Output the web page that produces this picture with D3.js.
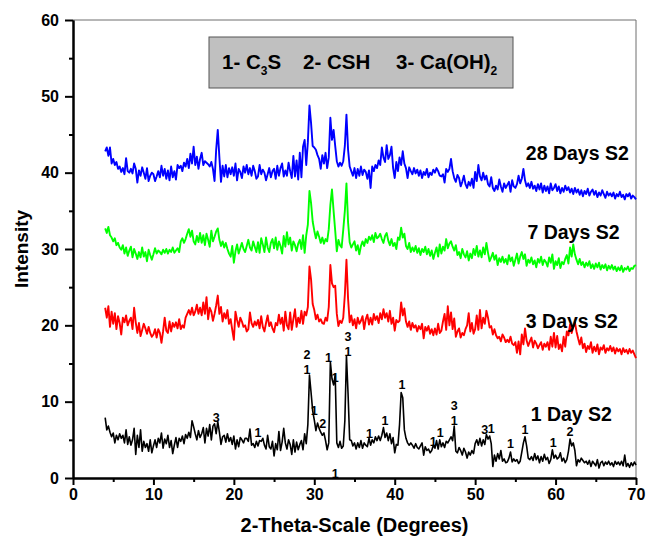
<!DOCTYPE html>
<html>
<head>
<meta charset="utf-8">
<script src="https://cdn.jsdelivr.net/npm/d3@7/dist/d3.min.js"></script>
<style>
  body { margin: 0; background: #fff; }
  svg text { font-family: Arial, "Liberation Sans", sans-serif; font-weight: bold; fill: #000; }
</style>
</head>
<body>
<svg id="chart" width="646" height="543"></svg>
<script>
// Diffractogram sampling grid: 2θ from 4° in 0.2° steps (one row per degree below)
const thetaStart = 4;
const thetaStep = 0.2;

// Intensity, 1 day of curing
const day1 = [
  7.9, 6.3, 6.8, 6.0, 5.4,
  5.9, 4.6, 5.6, 5.0, 5.8,
  5.2, 5.6, 4.6, 6.3, 4.4,
  5.4, 4.3, 5.0, 6.5, 3.1,
  5.6, 4.0, 6.3, 3.5, 4.8,
  4.0, 4.5, 3.5, 5.0, 3.3,
  4.2, 5.0, 4.0, 5.2, 4.6,
  5.9, 3.9, 5.1, 4.5, 5.6,
  4.0, 4.9, 3.2, 4.3, 5.3,
  4.0, 5.2, 4.8, 5.5, 4.5,
  5.7, 5.2, 6.0, 5.3, 7.5,
  6.7, 5.8, 5.0, 6.2, 5.3,
  5.8, 6.6, 4.6, 6.5, 5.5,
  7.0, 5.0, 6.8, 7.1, 5.8,
  7.4, 6.0, 4.4, 5.4, 5.6,
  4.7, 5.8, 4.8, 5.3, 4.4,
  5.5, 3.8, 5.0, 4.1, 5.3,
  5.0, 4.6, 5.2, 5.2, 4.8,
  6.4, 4.3, 4.5, 4.0, 4.8,
  4.2, 4.9, 4.8, 5.2, 4.3,
  3.8, 5.6, 4.1, 3.8, 4.8,
  2.9, 4.5, 3.7, 6.1, 3.6,
  4.7, 6.5, 4.6, 3.8, 5.0,
  4.4, 3.1, 5.0, 3.4, 4.7,
  3.7, 4.4, 4.9, 3.7, 5.8,
  4.5, 7.0, 13.5, 11.2, 8.8,
  7.6, 6.2, 7.2, 6.5, 6.0,
  5.6, 5.9, 4.9, 3.7, 4.6,
  15.2, 13.0, 12.2, 13.5, 4.6,
  4.0, 4.8, 3.9, 4.2, 7.5,
  16.0, 11.0, 5.0, 4.9, 4.2,
  4.6, 3.8, 4.6, 4.0, 4.9,
  3.9, 4.6, 4.3, 4.1, 5.2,
  4.3, 5.0, 4.6, 5.4, 4.9,
  5.5, 4.9, 5.6, 6.6, 5.3,
  5.9, 4.9, 5.8, 4.5, 5.3,
  3.3, 4.4, 4.3, 7.0, 11.2,
  10.5, 6.3, 5.2, 4.6, 4.3,
  4.6, 4.3, 3.9, 4.5, 4.0,
  3.8, 4.2, 4.6, 3.0, 4.1,
  3.6, 3.8, 3.3, 3.6, 4.3,
  3.9, 4.9, 3.8, 5.0, 4.1,
  4.6, 4.0, 4.8, 4.6, 5.0,
  5.4, 4.9, 6.8, 3.5, 3.3,
  4.0, 3.6, 3.0, 3.9, 3.4,
  2.6, 3.4, 3.0, 3.6, 3.2,
  4.5, 5.0, 4.3, 5.2, 4.2,
  5.0, 4.4, 5.7, 5.1, 5.5,
  4.5, 1.5, 3.0, 2.2, 3.2,
  2.5, 3.6, 2.2, 2.5, 2.0,
  2.1, 2.6, 3.4, 2.1, 2.5,
  2.2, 2.4, 1.9, 2.2, 3.4,
  4.6, 5.4, 4.2, 2.6, 2.4,
  2.8, 2.3, 3.2, 2.4, 2.9,
  2.0, 2.8, 2.2, 3.1, 2.4,
  2.7, 1.9, 2.4, 3.7, 2.6,
  3.0, 2.5, 2.7, 3.3, 2.2,
  2.6, 2.0, 2.4, 3.5, 5.1,
  4.2, 4.6, 3.6, 1.6, 2.4,
  2.1, 2.6, 2.3, 2.0, 2.2,
  1.8, 2.3, 1.5, 2.2, 1.9,
  1.6, 2.4, 1.3, 2.0, 2.2,
  1.6, 2.1, 1.8, 2.2, 1.7,
  2.0, 1.5, 2.2, 1.8, 2.1,
  1.7, 2.2, 1.6, 3.0, 1.5,
  1.9, 1.4, 2.0, 1.6, 2.1,
  1.7
];

// Intensity, 3 days of curing
const day3 = [
  22.3, 21.0, 22.5, 19.8, 21.8,
  20.2, 21.6, 19.5, 21.2, 20.3,
  18.8, 21.0, 20.4, 21.3, 20.0,
  20.6, 21.0, 19.5, 22.3, 20.4,
  19.0, 20.3, 18.6, 19.4, 20.2,
  19.6, 18.9, 19.8, 19.0, 18.5,
  18.8, 19.5, 18.4, 19.5, 19.0,
  17.7, 19.2, 21.0, 19.3, 19.0,
  20.5, 19.2, 20.3, 19.8, 20.4,
  19.6, 20.8, 19.5, 20.0, 19.7,
  21.0, 21.5, 22.0, 21.4, 22.3,
  21.3, 21.8, 22.7, 21.5, 22.3,
  21.3, 23.0, 21.5, 23.7, 20.8,
  22.3, 21.8, 20.6, 21.5, 22.6,
  23.9, 21.5, 22.4, 20.5, 21.6,
  20.9, 22.0, 20.2, 20.8, 19.4,
  18.1, 21.8, 20.7, 19.8, 21.0,
  20.5, 19.8, 20.0, 19.2, 19.5,
  21.7, 20.3, 19.8, 20.5, 20.0,
  20.7, 19.6, 21.2, 19.8, 19.2,
  20.3, 21.3, 19.9, 20.4, 19.6,
  19.1, 20.3, 20.0, 21.4, 20.2,
  21.0, 19.3, 21.8, 20.0, 19.5,
  21.7, 19.4, 20.8, 22.1, 19.8,
  21.0, 20.3, 21.9, 20.2, 21.8,
  21.3, 22.4, 27.7, 26.0, 22.8,
  22.0, 20.8, 21.4, 20.5, 20.8,
  20.3, 20.2, 21.0, 20.6, 22.4,
  27.9, 25.5, 25.0, 25.2, 21.5,
  19.9, 20.6, 20.3, 21.0, 24.0,
  28.6, 23.5, 20.4, 21.3, 20.0,
  20.8, 19.6, 21.0, 20.2, 20.6,
  21.2, 19.5, 20.8, 21.4, 20.1,
  21.0, 20.1, 21.5, 20.7, 21.2,
  20.3, 21.6, 20.8, 22.1, 21.0,
  21.6, 20.5, 21.9, 20.2, 21.0,
  19.3, 20.7, 20.4, 20.6, 23.0,
  21.3, 22.2, 20.5, 19.8, 20.5,
  19.4, 20.3, 19.7, 20.0, 19.2,
  19.9, 19.5, 20.2, 18.3, 19.8,
  19.3, 19.9, 18.9, 19.5, 18.7,
  19.6, 18.8, 20.2, 19.0, 19.3,
  20.5, 21.5, 19.4, 22.5, 20.0,
  21.7, 19.5, 20.9, 18.5, 19.2,
  19.6, 18.4, 19.0, 18.7, 19.5,
  20.0, 21.6, 19.2, 20.3, 18.9,
  19.5, 21.3, 19.4, 22.0, 19.6,
  21.0, 20.2, 21.9, 21.0, 19.7,
  19.9, 18.8, 19.5, 18.7, 18.3,
  18.5, 17.9, 18.8, 18.4, 17.8,
  18.1, 17.8, 18.5, 17.6, 17.4,
  17.8, 16.4, 17.9, 16.2, 18.8,
  17.5, 19.6, 18.0, 17.3, 17.9,
  18.4, 17.1, 18.0, 17.6, 17.0,
  17.4, 17.8, 16.8, 17.6, 17.2,
  17.8, 16.8, 18.5, 17.2, 19.0,
  17.1, 18.6, 16.9, 17.5, 16.6,
  18.5, 17.2, 19.2, 18.7, 20.1,
  19.0, 19.8, 20.4, 19.2, 18.3,
  17.5, 18.4, 17.0, 17.6, 16.5,
  17.3, 16.9, 17.8, 16.4, 17.2,
  16.6, 17.5, 16.2, 17.1, 16.8,
  17.4, 16.4, 17.0, 16.7, 17.3,
  16.6, 17.1, 16.3, 17.0, 16.6,
  16.9, 16.2, 17.0, 16.5, 16.8,
  16.3, 16.9, 16.4, 16.7, 16.2,
  15.7
];

// Intensity, 7 days of curing
const day7 = [
  32.7, 32.1, 32.9, 31.8, 31.5,
  31.0, 31.4, 30.5, 30.8, 30.2,
  29.9, 30.5, 29.4, 30.2, 29.1,
  29.8, 30.3, 28.9, 30.0, 29.4,
  28.7, 29.6, 28.9, 30.2, 29.0,
  29.6, 28.4, 29.9, 29.2, 28.6,
  29.3, 30.1, 29.4, 29.8, 29.6,
  29.3, 29.9, 29.5, 30.0, 29.4,
  29.9, 29.6, 30.2, 29.5, 29.8,
  30.1, 29.6, 31.0, 31.4, 30.8,
  31.3, 32.0, 32.6, 31.6, 32.4,
  31.0, 30.6, 31.7, 30.9, 32.1,
  30.8, 31.8, 30.5, 32.0, 31.2,
  30.3, 32.4, 31.0, 31.6, 32.3,
  32.7, 31.2, 30.4, 31.0, 30.2,
  30.8, 30.0, 29.4, 29.0, 30.4,
  28.2, 29.7, 30.6, 29.4, 30.1,
  30.8, 30.0, 29.6, 30.4, 31.2,
  30.2, 29.8, 31.0, 30.3, 29.6,
  30.9, 29.5, 31.4, 30.6, 29.6,
  31.5, 30.2, 29.6, 30.8, 31.3,
  30.1, 31.5, 29.9, 31.0, 30.4,
  29.4, 31.7, 30.3, 32.2, 30.6,
  31.5, 29.8, 31.0, 30.5, 29.7,
  30.7, 31.2, 30.0, 31.8, 29.5,
  31.8, 33.2, 37.6, 36.0, 33.6,
  32.4, 31.4, 32.3, 31.6, 30.8,
  31.5, 30.7, 31.3, 31.0, 32.6,
  35.8, 37.8, 35.0, 32.4, 29.7,
  31.2, 30.5, 30.2, 32.5, 35.0,
  38.6, 33.5, 30.9, 30.2, 30.6,
  31.0, 29.8, 30.5, 29.3, 30.4,
  31.0, 30.4, 31.3, 30.8, 31.6,
  31.2, 31.8, 30.9, 32.1, 31.4,
  31.6, 32.0, 31.3, 30.8, 31.7,
  32.1, 31.1, 30.5, 31.3, 30.4,
  30.8, 30.0, 31.5, 31.2, 32.8,
  31.5, 32.0, 30.4, 30.0, 30.8,
  29.6, 30.2, 29.7, 30.4, 29.5,
  30.1, 29.2, 30.0, 29.6, 30.3,
  29.3, 30.0, 29.1, 29.8, 28.7,
  29.5, 30.2, 29.0, 30.6, 29.4,
  30.3, 29.8, 31.3, 30.1, 30.7,
  31.0, 30.3, 29.8, 30.5, 29.2,
  29.6, 28.8, 30.0, 29.3, 28.9,
  29.7, 28.5, 29.4, 28.8, 30.0,
  29.2, 30.4, 29.0, 29.8, 28.9,
  30.2, 29.3, 30.8, 29.5, 28.4,
  28.9, 29.5, 28.6, 29.2, 27.9,
  28.8, 28.3, 29.0, 28.2, 28.7,
  28.0, 29.2, 28.4, 28.9, 27.8,
  28.6, 29.4, 28.1, 29.0, 29.6,
  28.7, 29.3, 27.8, 28.6, 28.2,
  28.9, 28.0, 28.5, 27.6, 28.7,
  28.2, 29.0, 27.9, 28.6, 28.3,
  27.7, 28.9, 28.2, 29.3, 27.4,
  28.4, 27.9, 28.8, 27.5, 28.3,
  28.0, 28.7, 29.2, 28.1, 30.2,
  29.0, 30.6, 29.3, 28.6, 28.0,
  28.7, 27.9, 28.3, 27.6, 28.2,
  27.8, 28.4, 27.5, 28.0, 27.4,
  28.1, 27.6, 28.2, 27.3, 27.9,
  27.5, 28.0, 27.2, 27.8, 27.4,
  27.9, 27.3, 27.7, 27.1, 27.6,
  27.2, 27.8, 27.0, 27.5, 27.3,
  27.7, 27.1, 27.5, 27.4, 27.8,
  27.9
];

// Intensity, 28 days of curing
const day28 = [
  42.8, 43.3, 42.2, 43.3, 41.2,
  41.8, 41.0, 41.4, 40.5, 40.8,
  40.1, 40.6, 39.8, 41.9, 40.2,
  40.0, 40.5, 39.9, 41.2, 40.5,
  38.7, 40.3, 39.6, 40.7, 40.0,
  39.2, 40.6, 38.9, 39.6, 40.0,
  39.8, 38.9, 39.5, 40.2, 39.4,
  40.9, 39.6, 40.5, 39.2, 40.3,
  39.0, 40.8, 39.4, 40.2, 39.1,
  41.0, 40.6, 40.9, 40.2, 41.3,
  40.8, 41.8, 40.6, 42.5, 41.2,
  43.4, 41.0, 42.1, 40.5, 41.8,
  42.6, 41.0, 41.5, 41.3, 41.1,
  40.8, 41.4, 40.5, 38.9, 43.0,
  45.6, 42.0, 38.8, 40.9, 39.5,
  41.0, 39.4, 40.6, 39.8, 40.7,
  39.6, 41.2, 39.0, 40.5, 40.1,
  39.3, 40.8, 40.0, 41.0, 39.8,
  40.6, 39.6, 40.9, 40.2, 39.2,
  39.5, 41.0, 39.8, 40.4, 40.0,
  39.0, 39.8, 40.6, 39.4, 40.2,
  40.5, 39.2, 40.9, 39.6, 40.6,
  41.2, 39.5, 40.3, 39.6, 41.3,
  40.2, 39.3, 42.2, 39.5, 41.6,
  39.1, 42.6, 39.4, 43.4, 44.3,
  41.0, 44.0, 48.8, 46.5, 43.5,
  43.3, 43.0, 42.3, 41.8, 40.5,
  42.3, 41.2, 42.6, 40.6, 42.0,
  47.2, 44.3, 45.6, 43.5, 41.5,
  40.8, 41.3, 40.9, 41.5, 43.5,
  47.6, 43.0, 40.8, 40.2, 39.6,
  40.6, 39.3, 40.5, 39.6, 40.8,
  39.7, 40.4, 40.1, 39.2, 40.3,
  38.0, 40.8, 40.2, 41.0, 40.6,
  41.6, 41.0, 43.3, 42.0, 41.4,
  43.6, 41.8, 42.3, 43.4, 40.6,
  39.3, 41.4, 40.2, 42.0, 41.0,
  42.8, 41.2, 40.6, 39.3, 40.7,
  40.2, 39.8, 40.6, 39.9, 40.4,
  39.6, 40.3, 39.3, 40.1, 39.7,
  40.5, 39.4, 40.0, 39.7, 40.4,
  40.0, 40.6, 40.2, 39.6, 39.5,
  39.8, 38.7, 40.5, 40.1, 40.5,
  41.8, 40.2, 39.3, 38.8, 39.7,
  39.3, 38.2, 38.8, 39.6, 38.5,
  38.0, 38.8, 38.3, 39.2, 38.0,
  40.1, 38.9, 41.0, 39.5, 39.0,
  40.0, 39.1, 39.6, 38.5, 38.2,
  39.4, 38.0, 37.6, 38.3, 37.8,
  39.1, 38.2, 37.5, 38.6, 38.0,
  38.4, 38.8, 37.5, 39.0, 38.2,
  38.0, 38.5, 39.6, 38.6, 39.2,
  40.5, 39.0, 38.2, 38.6, 38.0,
  38.8, 37.9, 38.3, 37.6, 38.5,
  37.8, 38.6, 37.4, 38.3, 37.6,
  38.2, 37.3, 38.6, 37.7, 38.0,
  38.5, 37.6, 38.2, 37.3, 38.0,
  37.5, 38.3, 37.7, 38.1, 37.4,
  37.9, 37.2, 38.0, 37.4, 37.8,
  37.1, 37.7, 36.9, 37.6, 37.2,
  37.9, 37.0, 37.5, 37.8, 37.1,
  37.6, 36.8, 37.4, 37.0, 37.7,
  37.2, 36.7, 37.5, 37.0, 37.3,
  36.9, 37.4, 36.6, 37.2, 36.9,
  37.5, 36.8, 37.1, 36.5, 37.2,
  36.9, 37.3, 36.6, 37.0, 36.8,
  36.5
];

const seriesValues = [day1, day3, day7, day28];
const seriesNames = ["1 Day S2", "3 Days S2", "7 Days S2", "28 Days S2"];
const seriesColors = ["#000000", "#ff0000", "#00ff00", "#0000ff"];
// where each series name sits (2θ, intensity)
const nameTheta = [56.9, 56.3, 56.5, 56.3];
const nameLevel = [7.5, 19.6, 31.3, 41.7];

// Phase markers on the 1-day pattern: 1 = C3S, 2 = CSH, 3 = Ca(OH)2
const peakTheta = [17.8, 23.0, 29.1, 29.1, 30.0, 31.05, 31.75, 32.6, 32.6, 34.2, 34.2, 36.85, 38.8, 40.9,
                   44.8, 45.65, 47.4, 47.4, 51.2, 52.0, 54.4, 56.2, 59.7, 61.8];
const peakLevel = [7.9, 6.0, 14.2, 16.2, 8.9, 7.1, 15.85, 13.2, 0.6, 16.6, 18.6, 5.8, 7.55, 12.2,
                   4.8, 5.9, 7.5, 9.5, 6.3, 6.55, 4.5, 6.3, 4.7, 6.1];
const peakPhase = ["3", "1", "1", "2", "1", "2", "1", "1", "1", "1", "3", "1", "1", "1",
                   "1", "1", "1", "3", "3", "1", "1", "1", "1", "2"];

const xMajorTicks = [0, 10, 20, 30, 40, 50, 60, 70];
const xMinorTicks = [5, 15, 25, 35, 45, 55, 65];
const yMajorTicks = [0, 10, 20, 30, 40, 50, 60];
const yMinorTicks = [5, 15, 25, 35, 45, 55];

// ---- layout ----
const svg = d3.select("#chart");
const plot = { left: 73, right: 636, top: 20, bottom: 478 };

const x = d3.scaleLinear().domain([0, 70]).range([plot.left, plot.right]);
const y = d3.scaleLinear().domain([0, 60]).range([plot.bottom, plot.top]);

// frame (thin top/right)
svg.append("path")
  .attr("d", `M${plot.left},${plot.top}H${plot.right}V${plot.bottom}`)
  .attr("fill", "none").attr("stroke", "#6e6e6e").attr("stroke-width", 1);

// curves
const line = d3.line()
  .x((d, i) => x(thetaStart + i * thetaStep))
  .y(d => y(d));

svg.append("g").selectAll("path")
  .data(seriesValues)
  .join("path")
  .attr("d", d => line(d))
  .attr("fill", "none")
  .attr("stroke", (d, i) => seriesColors[i])
  .attr("stroke-width", (d, i) => i === 0 ? 1.6 : 1.9)
  .attr("stroke-linejoin", "round");

// axes
function styleAxis(g) {
  g.selectAll(".domain").attr("stroke", "#000").attr("stroke-width", 2);
  g.selectAll(".tick line").attr("stroke", "#000").attr("stroke-width", 2);
  g.selectAll(".tick text").style("font-size", "16px").style("font-weight", "bold");
}

svg.append("g")
  .attr("transform", `translate(0,${plot.bottom})`)
  .call(d3.axisBottom(x).tickValues(xMinorTicks).tickSize(4).tickFormat("").tickSizeOuter(0))
  .call(styleAxis);
svg.append("g")
  .attr("transform", `translate(0,${plot.bottom})`)
  .call(d3.axisBottom(x).tickValues(xMajorTicks).tickSize(7).tickPadding(4).tickSizeOuter(0).tickFormat(d3.format("d")))
  .call(styleAxis);

svg.append("g")
  .attr("transform", `translate(${plot.left},0)`)
  .call(d3.axisLeft(y).tickValues(yMinorTicks).tickSize(4).tickFormat("").tickSizeOuter(0))
  .call(styleAxis);
svg.append("g")
  .attr("transform", `translate(${plot.left},0)`)
  .call(d3.axisLeft(y).tickValues(yMajorTicks).tickSize(8).tickPadding(6).tickSizeOuter(0).tickFormat(d3.format("d")))
  .call(styleAxis);

// axis titles
svg.append("text")
  .attr("x", (plot.left + plot.right) / 2).attr("y", 532)
  .attr("text-anchor", "middle").style("font-size", "20px")
  .text("2-Theta-Scale (Degrees)");
svg.append("text")
  .attr("transform", `translate(28,${(plot.top + plot.bottom) / 2}) rotate(-90)`)
  .attr("text-anchor", "middle").style("font-size", "19px")
  .text("Intensity");

// series names
svg.append("g").selectAll("text")
  .data(seriesNames)
  .join("text")
  .attr("x", (d, i) => x(nameTheta[i]))
  .attr("y", (d, i) => y(nameLevel[i]))
  .style("font-size", "19.5px")
  .text(d => d);

// phase markers
svg.append("g").selectAll("text")
  .data(peakPhase)
  .join("text")
  .attr("x", (d, i) => x(peakTheta[i]))
  .attr("y", (d, i) => y(peakLevel[i]))
  .attr("dy", "0.36em")
  .attr("text-anchor", "middle")
  .style("font-size", "12.5px")
  .text(d => d);

// phase key
const key = svg.append("g");
key.append("rect")
  .attr("x", 209).attr("y", 37).attr("width", 304).attr("height", 51)
  .attr("fill", "#c0c0c0").attr("stroke", "#555").attr("stroke-width", 1);
const keyText = key.append("text").attr("y", 69).style("font-size", "20.5px");
keyText.append("tspan").attr("x", 222).text("1- C");
keyText.append("tspan").attr("dy", 6).style("font-size", "12px").text("3");
keyText.append("tspan").attr("dy", -6).text("S");
keyText.append("tspan").attr("x", 303).text("2- CSH");
keyText.append("tspan").attr("x", 396).text("3- Ca(OH)");
keyText.append("tspan").attr("dy", 6).style("font-size", "12px").text("2");
</script>
</body>
</html>
